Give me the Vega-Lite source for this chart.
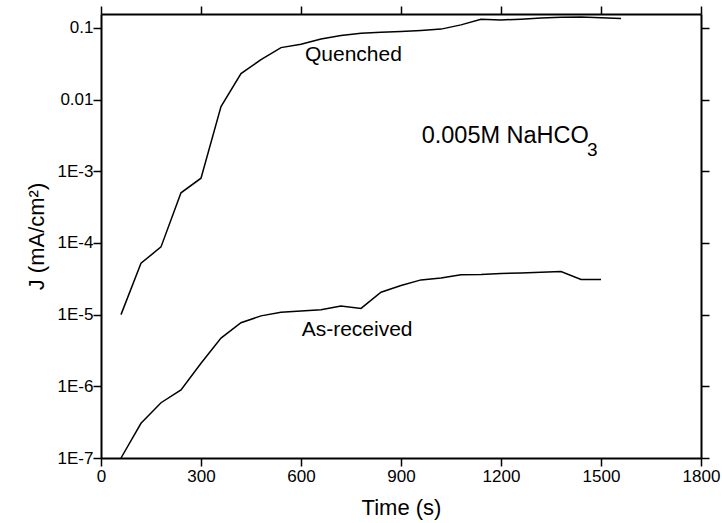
{
  "$schema": "https://vega.github.io/schema/vega-lite/v6.json",
  "width": 600,
  "height": 444,
  "autosize": {"type": "none"},
  "padding": {"left": 101, "top": 14, "right": 21, "bottom": 65},
  "background": "white",
  "config": {
    "view": {"stroke": null},
    "font": "Liberation Sans",
    "axis": {
      "grid": false,
      "domainColor": "black",
      "tickColor": "black",
      "labelColor": "black",
      "titleColor": "black",
      "labelFont": "Liberation Sans",
      "titleFont": "Liberation Sans",
      "labelFontSize": 17,
      "titleFontSize": 22,
      "titleFontWeight": "normal",
      "labelFlush": false,
      "domainWidth": 2,
      "tickWidth": 1.5
    }
  },
  "datasets": {
    "curves": [
      {"series": "Quenched", "t": 60, "J": 1e-5},
      {"series": "Quenched", "t": 120, "J": 5.2e-5},
      {"series": "Quenched", "t": 180, "J": 8.8e-5},
      {"series": "Quenched", "t": 240, "J": 5e-4},
      {"series": "Quenched", "t": 300, "J": 8e-4},
      {"series": "Quenched", "t": 360, "J": 8e-3},
      {"series": "Quenched", "t": 420, "J": 0.023},
      {"series": "Quenched", "t": 480, "J": 0.036},
      {"series": "Quenched", "t": 540, "J": 0.053},
      {"series": "Quenched", "t": 600, "J": 0.059},
      {"series": "Quenched", "t": 660, "J": 0.07},
      {"series": "Quenched", "t": 720, "J": 0.078},
      {"series": "Quenched", "t": 780, "J": 0.084},
      {"series": "Quenched", "t": 840, "J": 0.087},
      {"series": "Quenched", "t": 900, "J": 0.089},
      {"series": "Quenched", "t": 960, "J": 0.092},
      {"series": "Quenched", "t": 1020, "J": 0.096},
      {"series": "Quenched", "t": 1080, "J": 0.11},
      {"series": "Quenched", "t": 1140, "J": 0.132},
      {"series": "Quenched", "t": 1200, "J": 0.129},
      {"series": "Quenched", "t": 1260, "J": 0.132},
      {"series": "Quenched", "t": 1320, "J": 0.137},
      {"series": "Quenched", "t": 1380, "J": 0.14},
      {"series": "Quenched", "t": 1440, "J": 0.142},
      {"series": "Quenched", "t": 1500, "J": 0.138},
      {"series": "Quenched", "t": 1560, "J": 0.135},
      {"series": "As-received", "t": 60, "J": 1e-7},
      {"series": "As-received", "t": 120, "J": 3.05e-7},
      {"series": "As-received", "t": 180, "J": 5.9e-7},
      {"series": "As-received", "t": 240, "J": 8.9e-7},
      {"series": "As-received", "t": 300, "J": 2.1e-6},
      {"series": "As-received", "t": 360, "J": 4.7e-6},
      {"series": "As-received", "t": 420, "J": 7.7e-6},
      {"series": "As-received", "t": 480, "J": 9.6e-6},
      {"series": "As-received", "t": 540, "J": 1.08e-5},
      {"series": "As-received", "t": 600, "J": 1.12e-5},
      {"series": "As-received", "t": 660, "J": 1.17e-5},
      {"series": "As-received", "t": 720, "J": 1.32e-5},
      {"series": "As-received", "t": 780, "J": 1.22e-5},
      {"series": "As-received", "t": 840, "J": 2.05e-5},
      {"series": "As-received", "t": 900, "J": 2.55e-5},
      {"series": "As-received", "t": 960, "J": 3.05e-5},
      {"series": "As-received", "t": 1020, "J": 3.25e-5},
      {"series": "As-received", "t": 1080, "J": 3.6e-5},
      {"series": "As-received", "t": 1140, "J": 3.62e-5},
      {"series": "As-received", "t": 1200, "J": 3.75e-5},
      {"series": "As-received", "t": 1260, "J": 3.82e-5},
      {"series": "As-received", "t": 1320, "J": 3.9e-5},
      {"series": "As-received", "t": 1380, "J": 4.0e-5},
      {"series": "As-received", "t": 1440, "J": 3.1e-5},
      {"series": "As-received", "t": 1500, "J": 3.1e-5}
    ],
    "notes": [
      {"kind": "curve", "t": 612, "J": 0.0342, "label": "Quenched"},
      {"kind": "curve", "t": 602, "J": 5.03e-6, "label": "As-received"},
      {"kind": "main", "t": 962, "J": 2.45e-3, "label": "0.005M NaHCO"},
      {"kind": "sub", "t": 1458, "J": 1.63e-3, "label": "3"}
    ]
  },
  "layer": [
    {
      "data": {"name": "curves"},
      "mark": {"type": "line", "color": "black", "strokeWidth": 1.5},
      "encoding": {
        "x": {
          "field": "t", "type": "quantitative",
          "scale": {"domain": [0, 1800], "nice": false, "zero": false},
          "axis": {"orient": "bottom", "values": [0, 300, 600, 900, 1200, 1500, 1800], "format": "d", "ticks": true, "tickSize": 8, "labelPadding": 2, "title": "Time (s)", "titlePadding": 13}
        },
        "y": {
          "field": "J", "type": "quantitative",
          "scale": {"type": "log", "domain": [1e-7, 0.156], "nice": false},
          "axis": {"orient": "left", "values": [1e-7, 1e-6, 1e-5, 1e-4, 1e-3, 0.01, 0.1], "ticks": true, "tickSize": 8, "labelPadding": 0, "labelExpr": "datum.value >= 0.09 ? '0.1' : datum.value >= 0.009 ? '0.01' : '1E' + round(log(datum.value)/LN10)", "title": "J (mA/cm²)", "titlePadding": 9}
        },
        "detail": {"field": "series"}
      }
    },
    {
      "data": {"name": "curves"},
      "mark": {"type": "line", "opacity": 0},
      "encoding": {
        "x": {"field": "t", "type": "quantitative", "axis": {"orient": "top", "values": [0, 300, 600, 900, 1200, 1500, 1800], "ticks": true, "tickSize": 8, "labels": false, "domain": true, "title": null}},
        "y": {"field": "J", "type": "quantitative", "axis": {"orient": "right", "values": [1e-7, 1e-6, 1e-5, 1e-4, 1e-3, 0.01, 0.1], "ticks": true, "tickSize": 8, "labels": false, "domain": true, "title": null}},
        "detail": {"field": "series"}
      }
    },
    {
      "data": {"name": "notes"},
      "transform": [{"filter": "datum.kind == 'curve'"}],
      "mark": {"type": "text", "align": "left", "baseline": "alphabetic", "fontSize": 21, "color": "black", "font": "Liberation Sans"},
      "encoding": {
        "x": {"field": "t", "type": "quantitative", "axis": null},
        "y": {"field": "J", "type": "quantitative", "axis": null},
        "text": {"field": "label"}
      }
    },
    {
      "data": {"name": "notes"},
      "transform": [{"filter": "datum.kind == 'main'"}],
      "mark": {"type": "text", "align": "left", "baseline": "alphabetic", "fontSize": 23.5, "color": "black", "font": "Liberation Sans"},
      "encoding": {
        "x": {"field": "t", "type": "quantitative", "axis": null},
        "y": {"field": "J", "type": "quantitative", "axis": null},
        "text": {"field": "label"}
      }
    },
    {
      "data": {"name": "notes"},
      "transform": [{"filter": "datum.kind == 'sub'"}],
      "mark": {"type": "text", "align": "left", "baseline": "alphabetic", "fontSize": 19, "color": "black", "font": "Liberation Sans"},
      "encoding": {
        "x": {"field": "t", "type": "quantitative", "axis": null},
        "y": {"field": "J", "type": "quantitative", "axis": null},
        "text": {"field": "label"}
      }
    }
  ],
  "resolve": {"axis": {"x": "independent", "y": "independent"}}
}
